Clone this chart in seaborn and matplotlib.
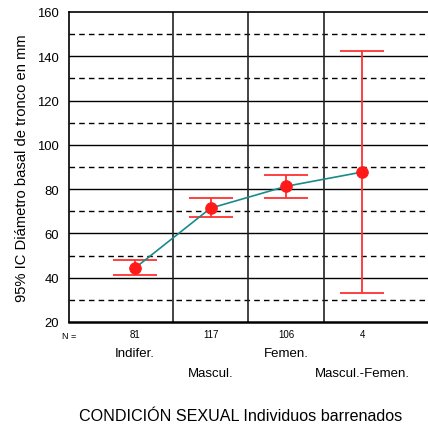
import numpy as np
import pandas as pd
import matplotlib
matplotlib.use("Agg")
import matplotlib.pyplot as plt
import seaborn as sns

sns.set_style("white")
plt.rcParams['font.family'] = ['Liberation Sans', 'DejaVu Sans']
plt.rcParams['text.color'] = 'black'
plt.rcParams['axes.labelcolor'] = 'black'
plt.rcParams['xtick.color'] = 'black'
plt.rcParams['ytick.color'] = 'black'

# Data
categories = ["Indifer.", "Mascul.", "Femen.", "Mascul.-Femen."]
n_values = [81, 117, 106, 4]
means = [44.3, 71.4, 81.3, 87.7]
ci_low = [41.1, 67.3, 76.1, 33.2]
ci_high = [47.9, 76.1, 86.3, 142.5]

df = pd.DataFrame({"pos": range(len(categories)), "cat": categories,
                   "mean": means, "lo": ci_low, "hi": ci_high})

fig = plt.figure(figsize=(4.28, 4.27), dpi=100)
ax = fig.add_axes([0.161, 0.2436, 0.839, 0.726])

# grid: solid majors, dashed minors
for y in range(40, 160, 20):
    ax.axhline(y, color="black", lw=1.0, zorder=0)
for y in range(30, 160, 20):
    ax.axhline(y, color="black", lw=1.0, ls=(0, (4, 3)), zorder=0)
for x in [0.5, 1.5, 2.5]:
    ax.axvline(x, color="#222222", lw=1.2, zorder=0)

# CI error bars
ax.errorbar(df["pos"], df["mean"],
            yerr=[df["mean"] - df["lo"], df["hi"] - df["mean"]],
            fmt="none", ecolor="#ff3030", elinewidth=1.3, capsize=16,
            capthick=1.3, zorder=2)
sns.lineplot(data=df, x="pos", y="mean", color="#1a8a8a", lw=1.2, ax=ax, zorder=3)
sns.scatterplot(data=df, x="pos", y="mean", color="#ff1a1a", s=70,
                edgecolor="#ff1a1a", ax=ax, zorder=4)

ax.set_xlim(-0.87, 3.87)
ax.set_ylim(20, 160)
ax.set_yticks(range(20, 161, 20))
ax.tick_params(axis="y", labelsize=9.4, length=0, pad=7)
ax.set_xticks(range(len(categories)))
ax.set_xticklabels([str(n) for n in n_values], fontsize=7)
ax.tick_params(axis="x", length=0, pad=5)
ax.set_xlabel("")
ax.set_ylabel("95% IC Diámetro basal de tronco en mm", fontsize=10.6, labelpad=6)

for s in ["left", "bottom", "top"]:
    ax.spines[s].set_color("black")
ax.spines["left"].set_linewidth(1.2)
ax.spines["bottom"].set_linewidth(1.8)
ax.spines["top"].set_linewidth(1.2)
ax.spines["right"].set_visible(False)

tr = ax.get_xaxis_transform()
ax.text(-0.87, -0.045, "N =", transform=tr, fontsize=6.5, ha="center", va="center")
for i, cat in enumerate(categories):
    yy = -0.1 if i % 2 == 0 else -0.163
    ax.text(i, yy, cat, transform=tr, fontsize=9.5, ha="center", va="center")

fig.text(0.563, 0.025, "CONDICIÓN SEXUAL Individuos barrenados",
         fontsize=11.6, ha="center", va="center")

fig.savefig("out.png", dpi=100)
